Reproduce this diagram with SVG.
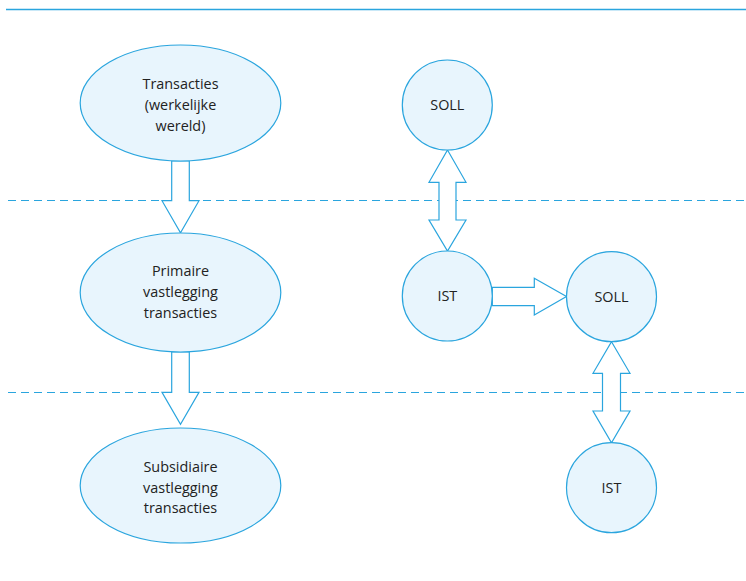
<svg xmlns="http://www.w3.org/2000/svg" width="746" height="581" viewBox="0 0 746 581">
  <style>
    .node { fill: #e8f5fd; stroke: #2aa5de; stroke-width: 1.2; }
    .arrow { fill: #ffffff; stroke: #2aa5de; stroke-width: 1.2; stroke-linejoin: miter; }
    .sep { stroke: #2aa5de; stroke-width: 1.2; stroke-dasharray: 8 5; fill: none; }
    .rule { stroke: #2aa5de; stroke-width: 1.5; fill: none; }
    text { font-family: "Open Sans", "Noto Sans", "DejaVu Sans", sans-serif; font-size: 14.4px; fill: #222222; text-anchor: middle; }
  </style>

  <!-- header rule and level separators -->
  <line class="rule" x1="6" y1="9.5" x2="746" y2="9.5"/>
  <line class="sep" x1="8" y1="200.5" x2="746" y2="200.5"/>
  <line class="sep" x1="8" y1="392.5" x2="746" y2="392.5"/>

  <!-- connectors -->
  <g id="connectors">
    <!-- Transacties -> Primaire vastlegging -->
    <polygon class="arrow" points="171.7,161 189.3,161 189.3,200.7 199,200.7 180.5,232.7 162,200.7 171.7,200.7"/>
    <!-- Primaire -> Subsidiaire vastlegging -->
    <polygon class="arrow" points="171.7,352 189.3,352 189.3,392.3 199,392.3 180.5,424.3 162,392.3 171.7,392.3"/>
    <!-- SOLL <-> IST (upper) -->
    <polygon class="arrow" points="447.5,150 466,182.3 456,182.3 456,220 466,220 447.5,251 429,220 439,220 439,182.3 429,182.3"/>
    <!-- IST -> SOLL -->
    <polygon class="arrow" points="492.3,287.3 534.3,287.3 534.3,278.3 566.5,296.5 534.3,315 534.3,305.7 492.3,305.7"/>
    <!-- SOLL <-> IST (lower) -->
    <polygon class="arrow" points="611.5,341.7 630,373.3 620.5,373.3 620.5,411 630,411 611.5,442.7 593,411 602.5,411 602.5,373.3 593,373.3"/>
  </g>

  <g id="transacties">
    <ellipse class="node" cx="180.5" cy="103" rx="100.3" ry="58"/>
    <text x="180.5" y="89">Transacties</text>
    <text x="180.5" y="110">(werkelijke</text>
    <text x="180.5" y="131">wereld)</text>
  </g>

  <g id="primaire">
    <ellipse class="node" cx="180.5" cy="292.5" rx="100.3" ry="59.5"/>
    <text x="180.5" y="276">Primaire</text>
    <text x="180.5" y="297">vastlegging</text>
    <text x="180.5" y="318">transacties</text>
  </g>

  <g id="subsidiaire">
    <ellipse class="node" cx="180.5" cy="485.5" rx="100.3" ry="57.5"/>
    <text x="180.5" y="472">Subsidiaire</text>
    <text x="180.5" y="493">vastlegging</text>
    <text x="180.5" y="513">transacties</text>
  </g>

  <g id="soll-1">
    <circle class="node" cx="447.3" cy="105" r="45"/>
    <text x="447.3" y="110">SOLL</text>
  </g>

  <g id="ist-1">
    <circle class="node" cx="447.3" cy="296" r="45"/>
    <text x="447.3" y="301">IST</text>
  </g>

  <g id="soll-2">
    <circle class="node" cx="611.5" cy="296.7" r="45"/>
    <text x="611.5" y="301.7">SOLL</text>
  </g>

  <g id="ist-2">
    <circle class="node" cx="611.5" cy="487.7" r="45"/>
    <text x="611.5" y="492.7">IST</text>
  </g>
</svg>
